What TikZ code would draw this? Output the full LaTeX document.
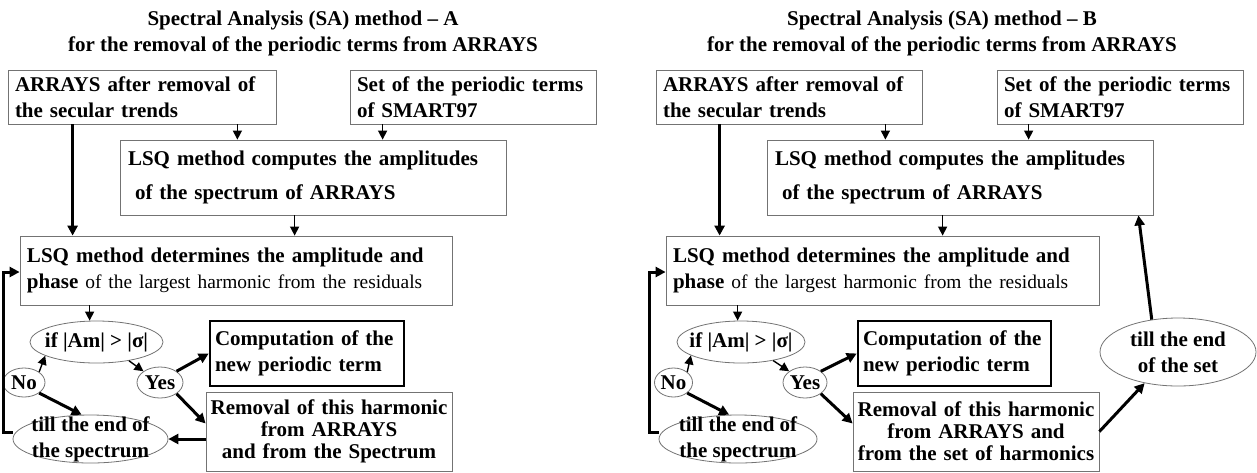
\documentclass[tikz,border=0pt]{standalone}
\usepackage{fontspec}
\setmainfont{Liberation Serif}
\usetikzlibrary{arrows.meta,shapes.geometric}

\tikzset{
  box/.style={draw=black!55, line width=0.8pt, rectangle, inner sep=0pt, align=left},
  termbox/.style={draw=black, line width=2.6pt, rectangle, inner sep=0pt, align=left},
  oval/.style={draw=black!55, line width=0.8pt, ellipse, inner xsep=-8pt, inner ysep=-8pt, align=center},
  link/.style={line width=1.4pt, -{Triangle[length=9pt,width=9pt]}},
  flow/.style={line width=3pt, -{Triangle[length=10pt,width=10pt]}},
}
\newcommand{\plain}{\mdseries\fontsize{19.4}{26}\selectfont}

\begin{document}
\begin{tikzpicture}
			[x=1pt,y=-1pt,every node/.style={font=\bfseries\fontsize{21}{26}\selectfont}]
			\useasboundingbox (0,0) rectangle (1257,472);
			% method A
			\node[align=center] (ta) at (303,33) {Spectral Analysis (SA) method -- A\\for the removal of the periodic terms from ARRAYS};
			\node[box,minimum width=268,minimum height=54,text width=254pt] (a1) at (142,97) {ARRAYS after removal of\\the secular trends};
			\node[box,minimum width=246,minimum height=54,text width=232pt] (a2) at (473,97) {Set of the periodic terms\\of SMART97};
			\node[box,minimum width=386,minimum height=75,text width=370pt] (a3) at (313,177.5) {LSQ method computes the amplitudes\\[8pt]\hspace{7pt}of the spectrum of ARRAYS};
			\node[box,minimum width=432,minimum height=69,text width=418pt] (a4) at (236,270.5) {LSQ method determines the amplitude and\\phase {\plain of the largest harmonic from the residuals}};
			\node[oval,minimum width=133,minimum height=42] (a5) at (96.5,342) {if |Am| > |σ|};
			\node[oval,minimum width=42,minimum height=29] (a6) at (24,382.5) {No};
			\node[oval,minimum width=46,minimum height=31] (a7) at (160,382.5) {Yes};
			\node[termbox,minimum width=194,minimum height=65,text width=184pt] (a8) at (307,353.5) {Computation of the\\new periodic term};
			\node[box,minimum width=246,minimum height=79,text width=240pt,align=center,font=\bfseries\fontsize{21}{22}\selectfont] (a9) at (329,431.5) {Removal of this harmonic\\from ARRAYS\\and from the Spectrum};
			\node[oval,minimum width=155,minimum height=48] (a10) at (90.5,439) {till the end of\\the spectrum};

			% method B
			\node[align=center] (tb) at (942,33) {Spectral Analysis (SA) method -- B\\for the removal of the periodic terms from ARRAYS};
			\node[box,minimum width=266,minimum height=54,text width=252pt] (b1) at (789,97) {ARRAYS after removal of\\the secular trends};
			\node[box,minimum width=246,minimum height=54,text width=232pt] (b2) at (1120,97) {Set of the periodic terms\\of SMART97};
			\node[box,minimum width=386,minimum height=75,text width=370pt] (b3) at (960,177.5) {LSQ method computes the amplitudes\\[8pt]\hspace{7pt}of the spectrum of ARRAYS};
			\node[box,minimum width=433,minimum height=69,text width=419pt] (b4) at (882.5,270.5) {LSQ method determines the amplitude and\\phase {\plain of the largest harmonic from the residuals}};
			\node[oval,minimum width=128,minimum height=42] (b5) at (741,342) {if |Am| > |σ|};
			\node[oval,minimum width=38,minimum height=29] (b6) at (673.5,382.5) {No};
			\node[oval,minimum width=44,minimum height=31] (b7) at (805,382.5) {Yes};
			\node[termbox,minimum width=193,minimum height=65,text width=183pt] (b8) at (954.5,353.5) {Computation of the\\new periodic term};
			\node[box,minimum width=246,minimum height=79,text width=240pt,align=center,font=\bfseries\fontsize{21}{22}\selectfont] (b9) at (976,431.5) {Removal of this harmonic\\from ARRAYS and\\from the set of harmonics};
			\node[oval,minimum width=158,minimum height=48] (b10) at (738,439) {till the end of\\the spectrum};
			\node[oval,minimum width=156,minimum height=68] (b11) at (1178,352) {till the end\\of the set};

			% connectors
			\draw[flow] ([xshift=65pt]a1.south west) -- ([xshift=65pt]a1.south west |- a4.north);
			\draw[link] ([xshift=-39pt]a1.south east) -- ([xshift=-39pt]a1.south east |- a3.north);
			\draw[link] ([xshift=33pt]a2.south west) -- ([xshift=33pt]a2.south west |- a3.north);
			\draw[link] ([xshift=175pt]a3.south west) -- ([xshift=175pt]a3.south west |- a4.north);
			\draw[link] ([xshift=70pt]a4.south west) -- ([xshift=70pt]a4.south west |- a5.north);
			\draw[flow] (a9.west |- a10.east) -- (a10.east);

			\draw[flow] ([xshift=64pt]b1.south west) -- ([xshift=64pt]b1.south west |- b4.north);
			\draw[link] ([xshift=-37pt]b1.south east) -- ([xshift=-37pt]b1.south east |- b3.north);
			\draw[link] ([xshift=32pt]b2.south west) -- ([xshift=32pt]b2.south west |- b3.north);
			\draw[link] ([xshift=176pt]b3.south west) -- ([xshift=176pt]b3.south west |- b4.north);
			\draw[link] ([xshift=72pt]b4.south west) -- ([xshift=72pt]b4.south west |- b5.north);
			\draw[flow] (b9.east) -- (b11.223);
			\draw[flow] (b11.129) -- ([xshift=-15pt]b3.south east);

			\foreach \p in {a,b} {
			\draw[link] (\p6.north east) -- (\p5.195);
			\draw[link] (\p5.330) -- (\p7.north west);
			\draw[flow] (\p7.north east) -- (\p8.west);
			\draw[flow] (\p7.south east) -- ([yshift=8pt]\p9.west);
			\draw[flow] (\p6.south east) -- (\p10.110);
			\draw[flow] ([yshift=7pt]\p10.west) -- ++(-9,0) |- ([yshift=-1.5pt]\p4.west);
			}
			\end{tikzpicture}
\end{document}
